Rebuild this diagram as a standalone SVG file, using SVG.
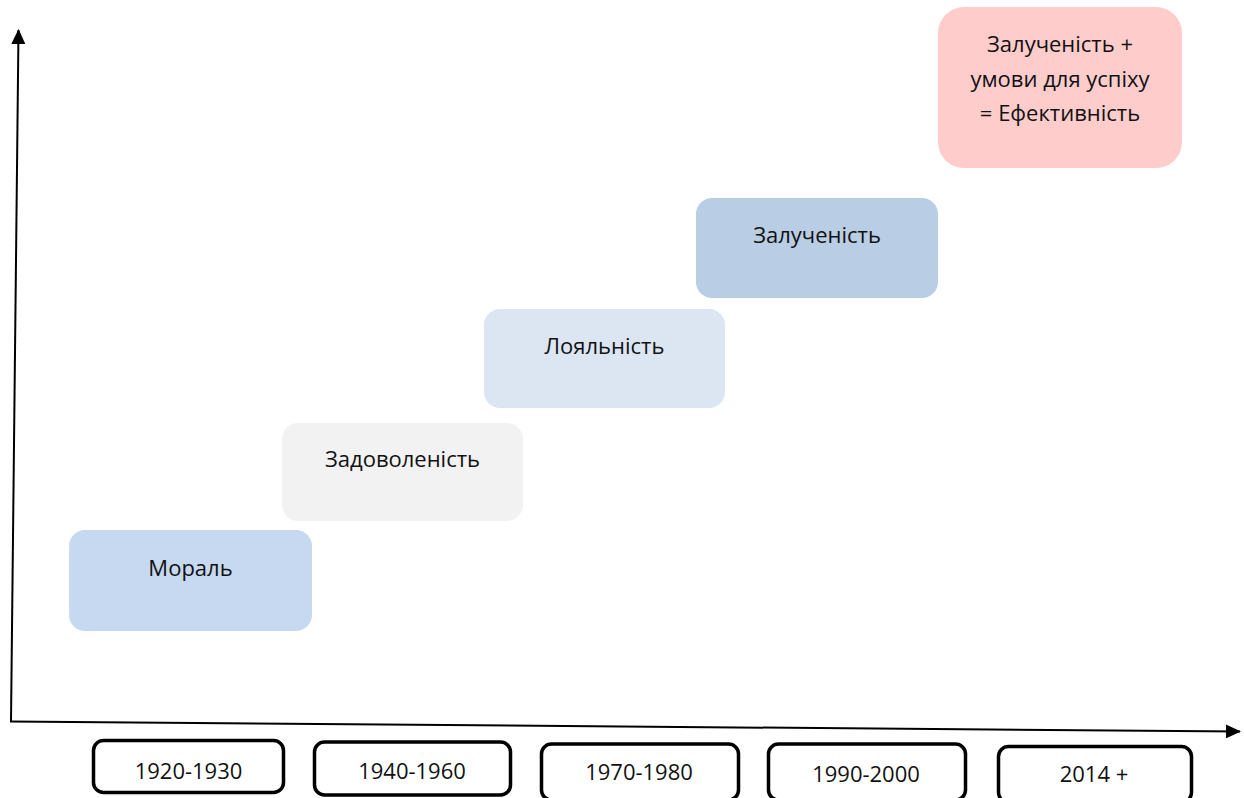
<svg xmlns="http://www.w3.org/2000/svg" width="1244" height="798" viewBox="0 0 1244 798">
  <style>
    .lbl { font-family: "Open Sans", "Liberation Sans", sans-serif; font-size: 22px; fill: #111; text-anchor: middle; }
    .yr { fill: #fff; stroke: #000; stroke-width: 3.5; }
    .axis { stroke: #000; stroke-width: 2; fill: none; }
  </style>
  <defs>
    <marker id="arr" markerUnits="userSpaceOnUse" markerWidth="15" markerHeight="14" refX="14" refY="7" orient="auto" viewBox="0 0 15 14">
      <path d="M0,0 L15,7 L0,14 z" fill="#000"/>
    </marker>
  </defs>
  <rect width="1244" height="798" fill="#fff"/>

  <g id="connectors">
    <line class="axis" x1="11" y1="721" x2="18.5" y2="30" marker-end="url(#arr)"/>
    <line class="axis" x1="10" y1="721.5" x2="1240" y2="731.5" marker-end="url(#arr)"/>
  </g>

  <g id="moral">
    <rect x="69" y="530" width="243" height="101" rx="16" fill="#C6D9F0"/>
    <text class="lbl" x="190.5" y="576">Мораль</text>
  </g>
  <g id="satisfaction">
    <rect x="282" y="423" width="241" height="98" rx="16" fill="#F2F2F2"/>
    <text class="lbl" x="402.5" y="467">Задоволеність</text>
  </g>
  <g id="loyalty">
    <rect x="484" y="309" width="241" height="99" rx="16" fill="#DCE6F2"/>
    <text class="lbl" x="604.5" y="354">Лояльність</text>
  </g>
  <g id="engagement">
    <rect x="696" y="198" width="242" height="100" rx="16" fill="#B9CDE5"/>
    <text class="lbl" x="817" y="243">Залученість</text>
  </g>
  <g id="effectiveness">
    <rect x="938" y="7" width="244" height="161" rx="26" fill="#FFCCCC"/>
    <text class="lbl" x="1060" y="52">Залученість +</text>
    <text class="lbl" x="1060" y="86.5">умови для успіху</text>
    <text class="lbl" x="1060" y="121">= Ефективність</text>
  </g>

  <g id="y1920">
    <rect class="yr" x="93.5" y="740.5" width="190" height="52" rx="10"/>
    <text class="lbl" x="188.5" y="779">1920-1930</text>
  </g>
  <g id="y1940">
    <rect class="yr" x="314.5" y="742" width="196" height="53" rx="10"/>
    <text class="lbl" x="412" y="779">1940-1960</text>
  </g>
  <g id="y1970">
    <rect class="yr" x="541.5" y="744" width="197" height="56" rx="10"/>
    <text class="lbl" x="639" y="780">1970-1980</text>
  </g>
  <g id="y1990">
    <rect class="yr" x="768.5" y="744" width="197" height="56" rx="10"/>
    <text class="lbl" x="866" y="782">1990-2000</text>
  </g>
  <g id="y2014">
    <rect class="yr" x="998.5" y="746.5" width="193" height="56" rx="10"/>
    <text class="lbl" x="1094" y="782">2014 +</text>
  </g>
</svg>
